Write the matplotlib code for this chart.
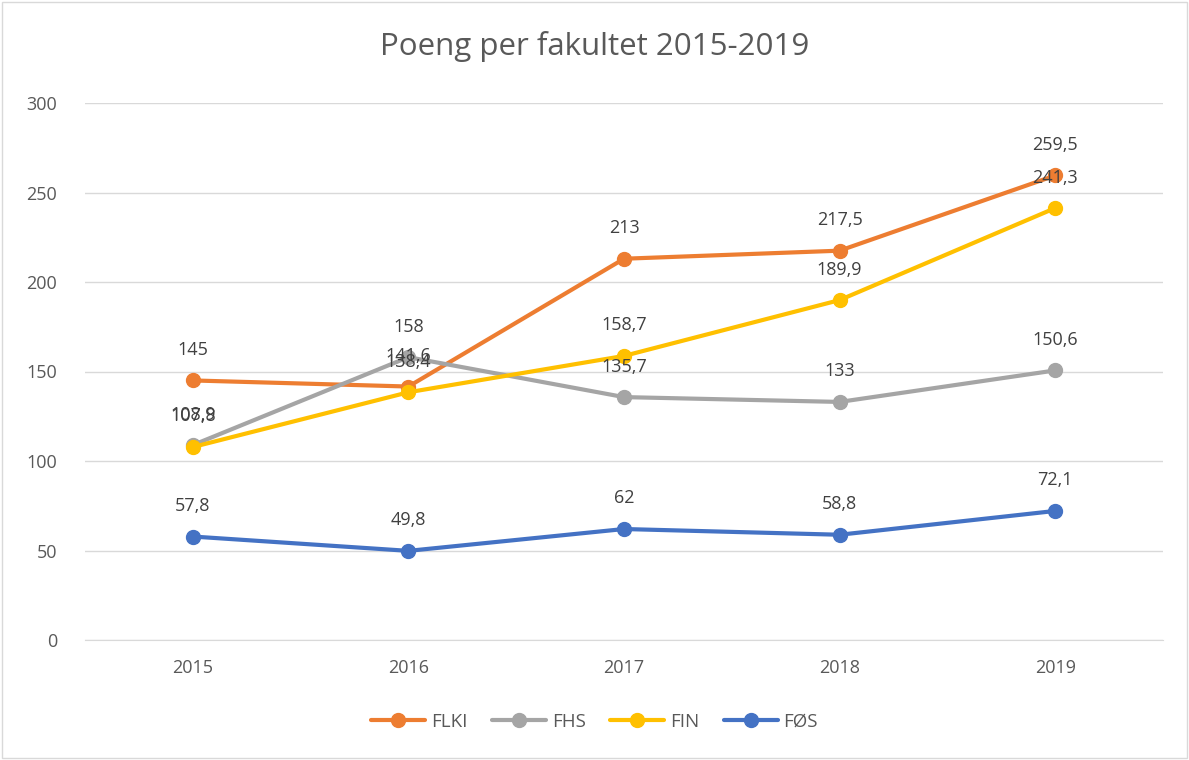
import matplotlib
matplotlib.use("Agg")
import matplotlib.pyplot as plt
from matplotlib.patches import Rectangle

years = ["2015", "2016", "2017", "2018", "2019"]
series_names = ["FLKI", "FHS", "FIN", "FØS"]
flki = [145, 141.6, 213, 217.5, 259.5]
fhs = [108.9, 158, 135.7, 133, 150.6]
fin = [107.8, 138.4, 158.7, 189.9, 241.3]
fos = [57.8, 49.8, 62, 58.8, 72.1]
colors = ["#ED7D31", "#A5A5A5", "#FFC000", "#4472C4"]
yticks = [0, 50, 100, 150, 200, 250, 300]

plt.rcParams['font.family'] = ['Open Sans', 'DejaVu Sans']

fig = plt.figure(figsize=(11.89, 7.6), dpi=100)
ax = fig.add_axes([85/1189, 120/760, 1078/1189, 537/760])

x = list(range(len(years)))
for name, vals, c in zip(series_names, [flki, fhs, fin, fos], colors):
    ax.plot(x, vals, color=c, lw=3, marker='o', ms=10, label=name,
            solid_capstyle='round', zorder=3)
for vals in [flki, fhs, fin, fos]:
    for xi, v in zip(x, vals):
        s = f"{v:g}".replace('.', ',')
        ax.annotate(s, (xi, v), xytext=(0, 22), textcoords='offset points',
                    ha='center', va='center', fontsize=13, color='#404040', zorder=5)

ax.set_xlim(-0.5, len(years) - 0.5)
ax.set_ylim(0, 300)
ax.set_yticks(yticks)
ax.set_xticks(x)
ax.set_xticklabels(years)
ax.grid(axis='y', color='#D9D9D9', lw=1)
ax.set_axisbelow(True)
for sp in ['top', 'right', 'left']:
    ax.spines[sp].set_visible(False)
ax.spines['bottom'].set_color('#D9D9D9')
ax.tick_params(axis='both', length=0, labelsize=13, labelcolor='#595959')
ax.tick_params(axis='x', pad=14)
ax.tick_params(axis='y', pad=20)

fig.text(0.5, 1 - 47/760, "Poeng per fakultet 2015-2019", ha='center', va='center',
         fontsize=22.5, color='#595959')

leg = fig.legend(loc='center', bbox_to_anchor=(0.5, 1 - 722/760), ncol=4, frameon=False,
                 fontsize=13.5, handlelength=2.9, columnspacing=1.3, handletextpad=0.3)
for t in leg.get_texts():
    t.set_color('#595959')

fig.patches.append(Rectangle((0.002, 0.002), 0.996, 0.996, transform=fig.transFigure,
                             fill=False, edgecolor='#D9D9D9', lw=1))

fig.savefig("out.png", dpi=100)
